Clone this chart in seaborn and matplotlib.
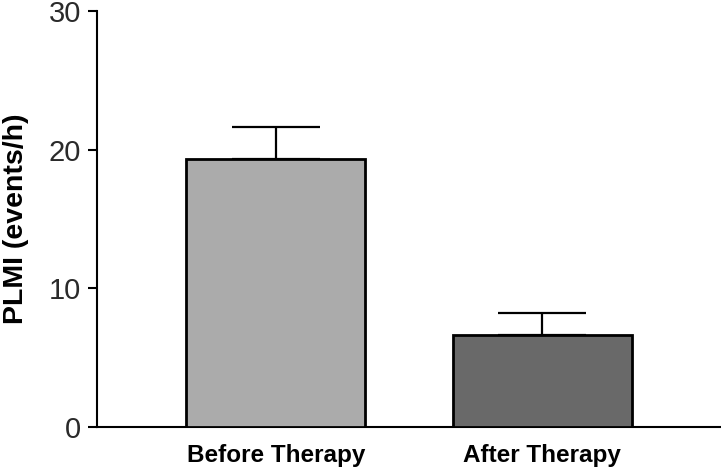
import seaborn as sns
import matplotlib.pyplot as plt
import pandas as pd

# values
condiciones = ["Before Therapy", "After Therapy"]
plmi_media = [19.35, 6.6]
plmi_error = [2.25, 1.65]
colores = ["#ababab", "#696969"]

sns.set_style("ticks")
plt.rcParams["font.family"] = ["Liberation Sans", "DejaVu Sans"]

df = pd.DataFrame({"condicion": condiciones, "plmi": plmi_media})

fig = plt.figure(figsize=(7.21, 4.69), dpi=100)
ax = fig.add_axes([97 / 721, 42 / 469, 624 / 721, 416 / 469])

sns.barplot(data=df, x="condicion", y="plmi", hue="condicion",
            palette=colores, width=0.672, edgecolor="black", linewidth=2,
            legend=False, ax=ax, zorder=3)

# solo la barra de error superior
ax.errorbar(range(len(condiciones)), plmi_media,
            yerr=[[0] * len(plmi_error), plmi_error],
            fmt="none", ecolor="black", elinewidth=1.6,
            capsize=32, capthick=1.6, zorder=2)

ax.set_xlim(-0.672, 1.672)
ax.set_ylim(0, 30)
ax.set_yticks([0, 10, 20, 30])
ax.set_xlabel("")
ax.set_ylabel("PLMI (events/h)", fontsize=20.5, fontweight="bold",
              labelpad=14, color="black")

ax.tick_params(axis="y", length=6.5, width=1.5, pad=5, labelsize=21,
               color="black", labelcolor="#2a2a2a")
ax.tick_params(axis="x", length=0, pad=12, labelsize=17.5,
               labelcolor="black")
for lbl in ax.get_xticklabels():
    lbl.set_fontweight("bold")

sns.despine(ax=ax)
for lado in ["left", "bottom"]:
    ax.spines[lado].set_linewidth(1.5)
    ax.spines[lado].set_color("black")

plt.savefig("out.png", dpi=100)
